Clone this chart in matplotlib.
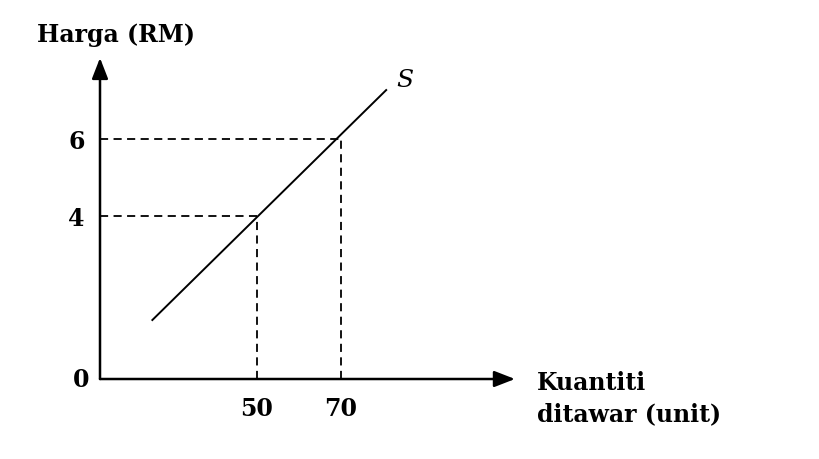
import matplotlib.pyplot as plt
import numpy as np

plt.rcParams["font.family"] = ["DejaVu Serif"]

# supply curve S (schematic)
s_qty = [25, 81]
s_price = [1.26, 7.29]

# marked points on the curve
qty_marks = [50, 70]
price_marks = [4, 6]

x_ticks = [50, 70]
y_ticks = [4, 6]

fs = 17

fig = plt.figure(figsize=(8.19, 4.6), dpi=100)
ax = fig.add_axes([0.1221, 0.1739, 0.5067, 0.698])
x0, x1 = 12.7, 111.5
y0, y1 = -0.26, 8.11
ax.set_xlim(x0, x1)
ax.set_ylim(y0, y1)

for s in ax.spines.values():
    s.set_visible(False)

# axes with arrows
arr = dict(arrowstyle="-|>,head_length=0.9,head_width=0.35", color="black",
           lw=1.8, shrinkA=0, shrinkB=0, mutation_scale=14)
ax.annotate("", xy=(1, 0), xytext=(0, 0), xycoords="axes fraction",
            textcoords="axes fraction", arrowprops=arr, annotation_clip=False)
ax.annotate("", xy=(0, 1), xytext=(0, 0), xycoords="axes fraction",
            textcoords="axes fraction", arrowprops=arr, annotation_clip=False)

# supply line
ax.plot(s_qty, s_price, color="black", lw=1.4, solid_capstyle="butt")
ax.text(s_qty[1] + 2.3, s_price[1] + 0.25, "S", fontsize=18, style="italic",
        ha="left", va="center")

# dashed guides
for q, p in zip(qty_marks, price_marks):
    ax.plot([x0, q], [p, p], color="black", lw=1.3, dashes=(4.5, 3))
    ax.plot([q, q], [y0, p], color="black", lw=1.3, dashes=(4.5, 3))

ax.set_xticks(x_ticks)
ax.set_yticks(y_ticks)
ax.set_xticklabels([str(v) for v in x_ticks], fontsize=fs, fontweight="bold")
ax.set_yticklabels([str(v) for v in y_ticks], fontsize=fs, fontweight="bold")
ax.tick_params(axis="x", length=0, pad=12)
ax.tick_params(axis="y", length=0, pad=11)
ax.text(-0.045, 0, "0", transform=ax.transAxes, fontsize=fs, fontweight="bold",
        ha="center", va="center")

fig.text(37 / 819, 1 - 42 / 460, "Harga (RM)", fontsize=fs, fontweight="bold",
         ha="left", va="baseline")
fig.text(537 / 819, 1 - 390 / 460, "Kuantiti", fontsize=fs, fontweight="bold",
         ha="left", va="baseline")
fig.text(537 / 819, 1 - 421 / 460, "ditawar (unit)", fontsize=fs, fontweight="bold",
         ha="left", va="baseline")

fig.savefig("out.png", dpi=100, facecolor="white")
